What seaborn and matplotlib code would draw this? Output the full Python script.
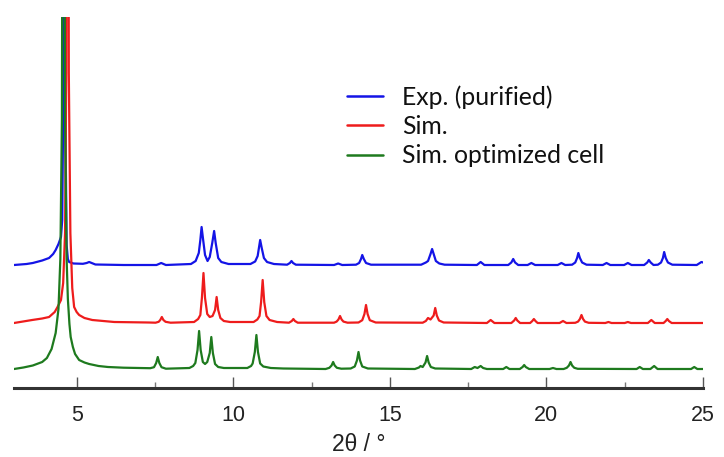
import matplotlib
matplotlib.use("Agg")
import matplotlib.pyplot as plt
import seaborn as sns
import pandas as pd
from matplotlib.ticker import MultipleLocator
from matplotlib.lines import Line2D

# ---- data (intensity in arbitrary units, baseline = 0) ----
labels = ["Exp. (purified)", "Sim.", "Sim. optimized cell"]
colors = ["#1414e6", "#ee1c1c", "#1e7a1e"]
offsets = [104, 46, 0]
tick_values = [5, 10, 15, 20, 25]

exp_x = [3.0, 3.4, 3.6, 3.9, 4.12, 4.25, 4.33, 4.42, 4.5, 4.54, 4.57, 4.6, 4.64, 4.68, 4.72,
         4.76, 4.9, 5.2, 5.32, 5.4, 5.48, 5.6, 6.5,
         7.55, 7.7, 7.85,
         8.65, 8.8, 8.9, 8.95, 8.99, 9.04, 9.1, 9.18, 9.25, 9.33, 9.39, 9.44, 9.52, 9.62, 9.85,
         10.55, 10.7, 10.78, 10.82, 10.86, 10.91, 10.98, 11.08, 11.3,
         11.72, 11.81, 11.86, 11.91, 12.0,
         13.22, 13.35, 13.48,
         13.92, 14.02, 14.08, 14.12, 14.17, 14.24, 14.4,
         16.0, 16.15, 16.22, 16.3, 16.35, 16.4, 16.47, 16.58, 16.75,
         17.78, 17.9, 18.02,
         18.78, 18.88, 18.94, 19.0, 19.1,
         19.4, 19.52, 19.64,
         20.36, 20.48, 20.6,
         20.82, 20.92, 20.98, 21.02, 21.07, 21.14, 21.28,
         21.8, 21.92, 22.04,
         22.48, 22.6, 22.72,
         23.12, 23.22, 23.27, 23.33, 23.42,
         23.56, 23.66, 23.72, 23.76, 23.81, 23.88, 24.02,
         24.8, 24.9, 24.95, 25.0]
exp_y = [0, 1, 2, 4.5, 7, 11, 15, 21, 28, 45, 150, 1000, 150, 20, 6,
         3, 1.5, 1.2, 2, 3, 2, 0.5, 0,
         0, 2, 0,
         1, 4, 12, 25, 38, 25, 10, 4, 8, 22, 34, 22, 7, 3, 1,
         1, 3.5, 9, 17, 25, 17, 7, 3, 1,
         0.3, 2, 4, 2, 0.3,
         0, 1.5, 0,
         0.3, 2, 6, 10, 6, 2, 0.3,
         0.3, 2.5, 4, 11, 16, 11, 4, 1.5, 0.3,
         0, 3, 0,
         0, 2.5, 6, 2.5, 0,
         0, 2, 0,
         0, 2, 0,
         0.3, 2.5, 7, 12, 7, 2.5, 0.3,
         0, 2, 0,
         0, 2, 0,
         0, 2.5, 5, 2.5, 0,
         0.3, 2.5, 7, 13, 7, 2.5, 0.3,
         0, 2, 3, 2.5]

sim_x = [3.0, 3.58, 3.9, 4.12, 4.3, 4.39, 4.5, 4.57, 4.63, 4.67, 4.71, 4.75, 4.8, 4.86,
         4.92, 5.0, 5.08, 5.25, 5.5, 6.2, 7.3,
         7.52, 7.62, 7.67, 7.72, 7.77, 7.84, 8.0,
         8.75, 8.88, 8.95, 9.0, 9.05, 9.1, 9.17, 9.25, 9.34, 9.42, 9.47, 9.52, 9.59, 9.7, 9.9,
         10.65, 10.77, 10.84, 10.89, 10.94, 10.99, 11.06, 11.16, 11.4,
         11.78, 11.87, 11.92, 11.97, 12.06,
         13.22, 13.3, 13.36, 13.41, 13.46, 13.52, 13.65,
         14.0, 14.12, 14.19, 14.24, 14.29, 14.36, 14.55,
         16.05, 16.15, 16.22, 16.3, 16.4, 16.45, 16.5, 16.57, 16.72,
         18.1, 18.22, 18.34,
         18.88, 18.97, 19.02, 19.07, 19.16,
         19.48, 19.55, 19.6, 19.65, 19.72,
         20.42, 20.53, 20.64,
         20.92, 21.01, 21.07, 21.12, 21.17, 21.23, 21.35,
         21.88, 21.98, 22.08,
         22.5, 22.6, 22.7,
         23.24, 23.35, 23.46,
         23.74, 23.81, 23.86, 23.91, 24.0,
         25.0]
sim_y = [0, 3, 4.5, 6, 11, 16, 23, 40, 90, 250, 1000, 250, 90, 35,
         16, 11, 8, 5, 3, 1, 0.5,
         0.3, 1.2, 3, 6, 3, 1.2, 0.3,
         1, 4, 8, 25, 50, 25, 9, 6, 7, 13, 26, 13, 5, 2, 1,
         1, 3.5, 7, 21, 43, 21, 7, 3, 1,
         0.3, 2, 4, 2, 0.3,
         0.3, 1.4, 3.5, 7, 3.5, 1.4, 0.3,
         0.5, 2.8, 9, 18, 9, 2.8, 0.5,
         0.3, 2, 5, 3.5, 7.5, 15, 7.5, 2.5, 0.5,
         0, 3, 0,
         0, 2.5, 5, 2.5, 0,
         0, 2, 4, 2, 0,
         0, 2, 0,
         0.2, 1.4, 4, 8, 4, 1.4, 0.2,
         0, 1, 0,
         0, 1, 0,
         0, 3, 0,
         0, 2, 4, 2, 0,
         0]

opt_x = [3.0, 3.3, 3.6, 3.9, 4.05, 4.2, 4.33, 4.42, 4.48, 4.53, 4.58, 4.63, 4.68, 4.72,
         4.77, 4.81, 4.88, 4.95, 5.08, 5.25, 5.4, 5.7, 6.0, 6.5, 7.0, 7.35,
         7.47, 7.54, 7.59, 7.64, 7.71, 7.85,
         8.6, 8.72, 8.79, 8.86, 8.91, 8.96, 9.03, 9.1, 9.17, 9.25, 9.30, 9.35, 9.42, 9.52, 9.7,
         10.45, 10.57, 10.62, 10.69, 10.74, 10.79, 10.86, 10.96, 11.2, 11.6,
         12.95, 13.07, 13.14, 13.19, 13.24, 13.31, 13.45,
         13.75, 13.88, 13.95, 14.0, 14.05, 14.12, 14.3,
         15.8, 15.93, 15.98, 16.05, 16.14, 16.19, 16.24, 16.31, 16.45,
         17.6, 17.71, 17.8, 17.9, 17.98, 18.1,
         18.62, 18.72, 18.82,
         19.15, 19.24, 19.29, 19.34, 19.45,
         20.1, 20.21, 20.32,
         20.55, 20.65, 20.72, 20.77, 20.82, 20.89, 21.0,
         22.88, 22.98, 23.08,
         23.32, 23.44, 23.55,
         24.62, 24.72, 24.82,
         25.0]
opt_y = [0, 1.5, 3.5, 7, 11, 20, 36, 60, 110, 250, 1000, 250, 110, 70,
         45, 32, 22, 15, 9, 6.5, 5, 3, 2, 1.3, 1, 0.8,
         1.8, 6, 12, 6, 1.8, 0.3,
         1, 3, 6, 19, 38, 19, 7, 5, 7, 16, 32, 16, 5, 2, 1,
         1, 3, 5.5, 17, 34, 17, 5.5, 2.5, 1, 0.5,
         0, 1.2, 3.5, 7, 3.5, 1.2, 0.3,
         0.5, 2.5, 8.5, 17, 8.5, 2.5, 0.5,
         0, 1.5, 3, 2, 6.5, 13, 6.5, 2, 0.5,
         0, 2, 1, 3, 1, 0,
         0, 2, 0,
         0, 2, 4, 2, 0,
         0, 1, 0,
         0, 1.2, 3.5, 7, 3.5, 1.2, 0.2,
         0, 2, 0,
         0, 3, 0,
         0, 2, 0,
         0]

xs = [exp_x, sim_x, opt_x]
ys = [exp_y, sim_y, opt_y]

frames = []
for lab, x, y, off in zip(labels, xs, ys, offsets):
    frames.append(pd.DataFrame({"two_theta": x,
                                "intensity": [v + off for v in y],
                                "pattern": lab}))
df = pd.concat(frames, ignore_index=True)

sns.set_theme(style="white")
plt.rcParams["font.family"] = ["Liberation Sans", "DejaVu Sans"]

fig = plt.figure(figsize=(7.24, 4.57), dpi=100)
ax = fig.add_axes([14 / 724, 69 / 457, 689 / 724, 371 / 457])

sns.lineplot(data=df, x="two_theta", y="intensity", hue="pattern",
             hue_order=labels, palette=colors, estimator=None, sort=False,
             linewidth=1.6, ax=ax, legend=False)

ax.set_xlim(3, 25)
ax.set_ylim(-19, 352)

for s in ["left", "right", "top"]:
    ax.spines[s].set_visible(False)
ax.spines["bottom"].set_color("#333333")
ax.spines["bottom"].set_linewidth(2.2)

ax.xaxis.set_minor_locator(MultipleLocator(2.5))
ax.set_xticks(tick_values)
ax.set_xticklabels([str(v) for v in tick_values])
ax.tick_params(axis="x", which="major", direction="in", length=8, width=1.0,
               color="#555555", labelsize=15.5, pad=12, bottom=True, labelcolor="#222222")
ax.tick_params(axis="x", which="minor", direction="in", length=4, width=1.0,
               color="#777777", bottom=True)
ax.set_yticks([])
ax.set_ylabel("")
ax.set_xlabel("")
fig.text(0.5 * (14 + 703) / 724, (457 - 451) / 457, "2θ / °", ha="center",
         va="baseline", fontsize=16.5, color="#222222")

handles = [Line2D([], [], color=c, lw=1.8) for c in colors]
fig.legend(handles, labels, loc="upper left",
           bbox_to_anchor=(347 / 724, 1 - 85 / 457), bbox_transform=fig.transFigure,
           frameon=False, prop={"family": "Lato", "size": 17.8},
           handlelength=1.46, handletextpad=0.77, labelspacing=0.26,
           borderpad=0, borderaxespad=0, labelcolor="#111111")

fig.savefig("out.png", dpi=100)
